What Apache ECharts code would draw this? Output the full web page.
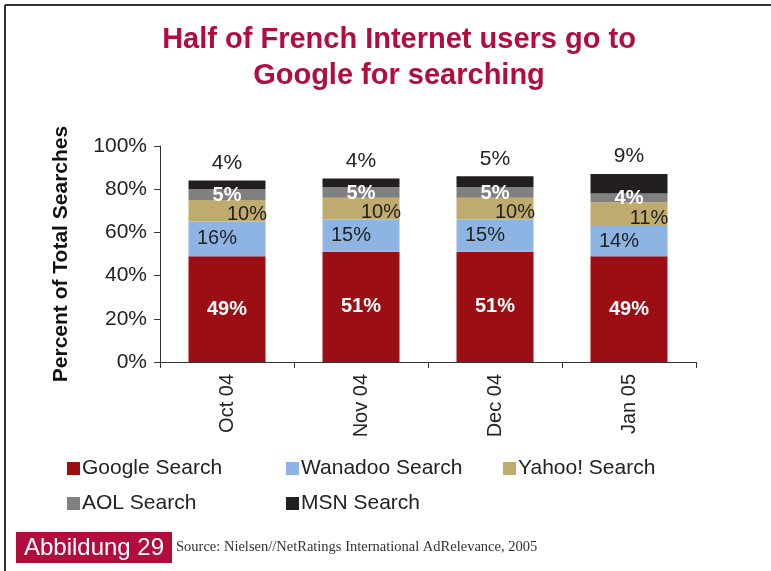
<!DOCTYPE html>
<html>
<head>
<meta charset="utf-8">
<script src="https://cdn.jsdelivr.net/npm/echarts@6/dist/echarts.min.js"></script>
<style>
html,body{margin:0;padding:0;background:#fff;}
#chart{width:771px;height:571px;}
</style>
</head>
<body>
<div id="chart"></div>
<script>
const categories = ['Oct 04', 'Nov 04', 'Dec 04', 'Jan 05'];
const seriesNames = ['Google Search', 'Wanadoo Search', 'Yahoo! Search', 'AOL Search', 'MSN Search'];
const google = [49, 51, 51, 49];
const wanadoo = [16, 15, 15, 14];
const yahoo = [10, 10, 10, 11];
const aol = [5, 5, 5, 4];
const msn = [4, 4, 5, 9];
const yTicks = [0, 20, 40, 60, 80, 100];

const colors = ['#9B0E14', '#8DB4E2', '#BFAB6E', '#808080', '#231F20'];
const FONT = 'Liberation Sans, Arial, sans-serif';

const labelStyles = [
  {show: true, position: 'inside', color: '#fff', fontWeight: 'bold', fontSize: 20, fontFamily: FONT},
  {show: true, position: 'inside', color: '#222', fontSize: 20, fontFamily: FONT, offset: [-10, 0]},
  {show: true, position: 'inside', color: '#222', fontSize: 20, fontFamily: FONT, offset: [20, 4]},
  {show: true, position: 'inside', color: '#fff', fontWeight: 'bold', fontSize: 20, fontFamily: FONT, offset: [0, 1]},
  {show: true, position: 'top', distance: 7, color: '#222', fontSize: 21, fontFamily: FONT}
];

const allData = [google, wanadoo, yahoo, aol, msn];
const series = allData.map((d, i) => ({
  name: seriesNames[i],
  type: 'bar',
  stack: 'total',
  barWidth: 77,
  data: d,
  itemStyle: {color: colors[i]},
  label: Object.assign({formatter: '{c}%'}, labelStyles[i])
}));

const legendPos = [
  {left: 62, top: 453}, {left: 281, top: 453}, {left: 498, top: 453},
  {left: 62, top: 488}, {left: 281, top: 488}
];
const legends = seriesNames.map((n, i) => ({
  data: [n],
  left: legendPos[i].left,
  top: legendPos[i].top,
  icon: 'rect',
  itemWidth: 13,
  itemHeight: 13,
  itemGap: 4,
  selectedMode: false,
  textStyle: {fontSize: 21, color: '#222', fontFamily: FONT, padding: [0, 0, 0, -3]}
}));

const chart = echarts.init(document.getElementById('chart'), null, {renderer: 'canvas'});
chart.setOption({
  animation: false,
  backgroundColor: '#fff',
  grid: {left: 160, right: 75, top: 146, bottom: 209, containLabel: false},
  legend: legends,
  xAxis: {
    type: 'category',
    data: categories,
    axisLine: {lineStyle: {color: '#333', width: 1}},
    axisTick: {show: true, alignWithLabel: false, length: 6, lineStyle: {color: '#333'}},
    axisLabel: {rotate: 90, fontSize: 20, color: '#222', fontFamily: FONT, margin: 12}
  },
  yAxis: {
    type: 'value',
    min: yTicks[0],
    max: yTicks[yTicks.length - 1],
    interval: 20,
    name: 'Percent of Total Searches',
    nameLocation: 'middle',
    nameRotate: 90,
    nameGap: 88,
    nameTextStyle: {fontSize: 21, fontWeight: 'bold', color: '#111', fontFamily: FONT},
    splitLine: {show: false},
    axisLine: {show: true, lineStyle: {color: '#333', width: 1}},
    axisTick: {show: true, length: 6, lineStyle: {color: '#333'}},
    axisLabel: {formatter: '{value}%', fontSize: 21, color: '#222', fontFamily: FONT, margin: 13}
  },
  series: series,
  graphic: [
    {type: 'line', shape: {x1: 5, y1: 5, x2: 771, y2: 5}, style: {stroke: '#333', lineWidth: 2}},
    {type: 'line', shape: {x1: 5, y1: 5, x2: 5, y2: 571}, style: {stroke: '#333', lineWidth: 2}},
    {type: 'text', x: 399, y: 40, style: {text: 'Half of French Internet users go to', textAlign: 'center', textVerticalAlign: 'middle', font: 'bold 29px ' + FONT, fill: '#B20D3C'}},
    {type: 'text', x: 399, y: 76, style: {text: 'Google for searching', textAlign: 'center', textVerticalAlign: 'middle', font: 'bold 29px ' + FONT, fill: '#B20D3C'}},
    {type: 'rect', shape: {x: 16, y: 532, width: 156, height: 31}, style: {fill: '#B20D3C'}},
    {type: 'text', x: 94, y: 548, style: {text: 'Abbildung 29', textAlign: 'center', textVerticalAlign: 'middle', font: '24px ' + FONT, fill: '#fff'}},
    {type: 'text', x: 176, y: 547, style: {text: 'Source: Nielsen//NetRatings International AdRelevance, 2005', textAlign: 'left', textVerticalAlign: 'middle', font: '14.5px Liberation Serif, Times New Roman, serif', fill: '#333'}}
  ]
});
</script>
</body>
</html>
